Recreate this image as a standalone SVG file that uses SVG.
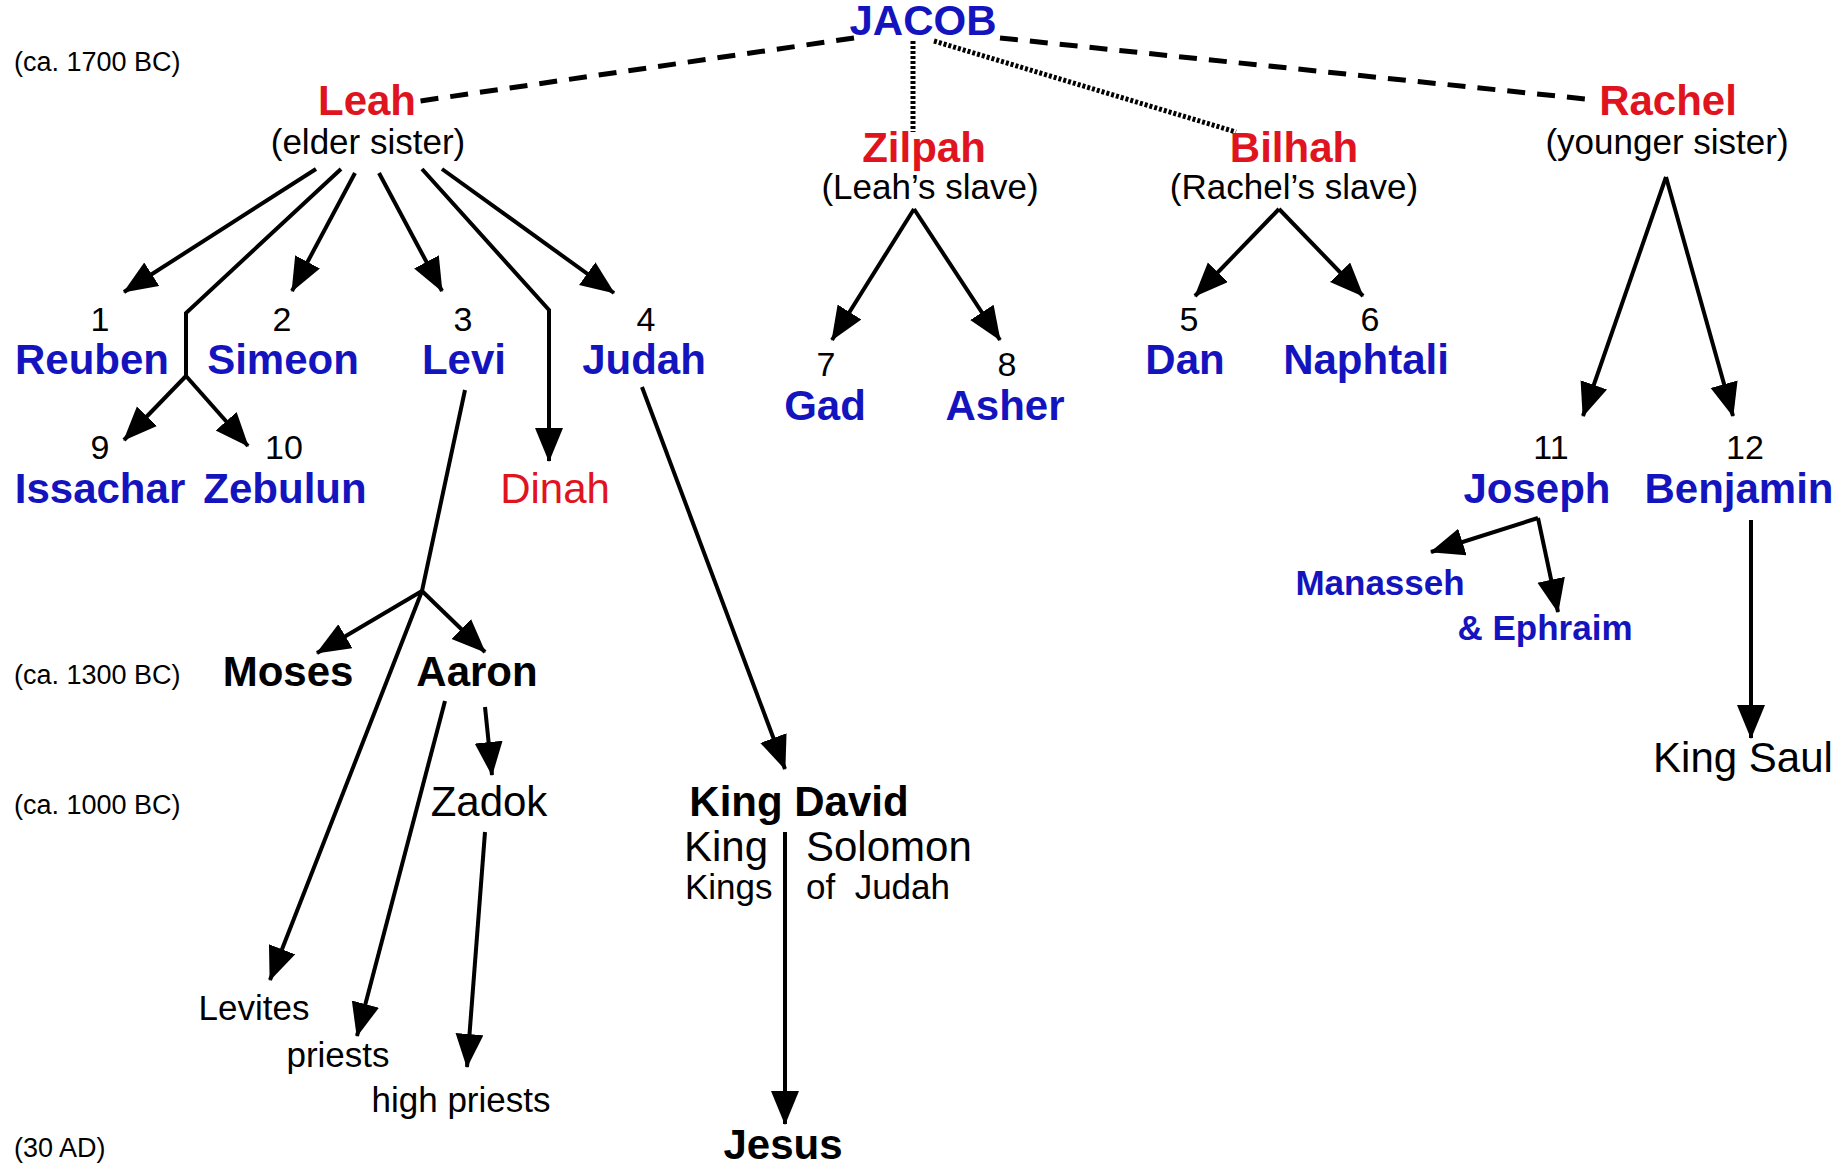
<svg xmlns="http://www.w3.org/2000/svg" width="1845" height="1167" viewBox="0 0 1845 1167">
<style>
text{font-family:"Liberation Sans",Arial,sans-serif;text-anchor:middle}
.bb{font-size:42px;font-weight:bold;fill:#1414BE}
.br{font-size:42px;font-weight:bold;fill:#E0141E}
.rr{font-size:42px;fill:#E0141E}
.bk{font-size:42px;font-weight:bold;fill:#000}
.rk{font-size:42px;fill:#000}
.sub{font-size:35px;fill:#000}
.num{font-size:34px;fill:#000}
.mb{font-size:35px;font-weight:bold;fill:#1414BE}
.date{font-size:27px;fill:#000;text-anchor:start}
.st{text-anchor:start}
.ln{stroke:#000;stroke-width:4;fill:none}
.ar{marker-end:url(#ah)}
.dash{stroke:#000;stroke-width:5;stroke-dasharray:18 12;fill:none}
.dot{stroke:#000;stroke-width:5;stroke-dasharray:3 2;fill:none}
</style>
<defs>
<marker id="ah" markerUnits="userSpaceOnUse" markerWidth="36" markerHeight="30" refX="33" refY="14" orient="auto" viewBox="0 0 36 30">
<path d="M0,0 L34,14 L0,28 Z" fill="#000"/>
</marker>
</defs>
<rect width="1845" height="1167" fill="#fff"/>
<g id="dates">
<text class="date" x="14" y="71">(ca. 1700 BC)</text>
<text class="date" x="14" y="684">(ca. 1300 BC)</text>
<text class="date" x="14" y="814">(ca. 1000 BC)</text>
<text class="date" x="14" y="1157">(30 AD)</text>
</g>
<g id="connectors">
<path class="dash" d="M854,38 L420,101"/>
<path class="dash" d="M1000,38 L1595,100"/>
<path class="dot" d="M913,41 L913,132"/>
<path class="dot" d="M934,41 L1236,132"/>
<path class="ln ar" d="M316,169 L124,292"/>
<path class="ln" d="M341,169 L186,313 L186,376"/>
<path class="ln ar" d="M186,376 L124,440"/>
<path class="ln ar" d="M186,376 L248,446"/>
<path class="ln ar" d="M355,173 L292,291"/>
<path class="ln ar" d="M379,173 L442,291"/>
<path class="ln ar" d="M422,169 L549,310 L549,461"/>
<path class="ln ar" d="M442,169 L614,293"/>
<path class="ln ar" d="M914,209 L832,340"/>
<path class="ln ar" d="M914,209 L1000,340"/>
<path class="ln ar" d="M1279,209 L1195,296"/>
<path class="ln ar" d="M1279,209 L1363,296"/>
<path class="ln ar" d="M1666,177 L1583,416"/>
<path class="ln ar" d="M1666,177 L1733,416"/>
<path class="ln" d="M465,390 L422,591"/>
<path class="ln ar" d="M422,591 L317,653"/>
<path class="ln ar" d="M422,591 L485,652"/>
<path class="ln ar" d="M422,591 L270,980"/>
<path class="ln ar" d="M445,701 L357,1036"/>
<path class="ln ar" d="M485,707 L492,775"/>
<path class="ln ar" d="M485,832 L467,1067"/>
<path class="ln ar" d="M642,387 L785,769"/>
<path class="ln ar" d="M785,832 L785,1124"/>
<path class="ln ar" d="M1538,518 L1431,552"/>
<path class="ln ar" d="M1538,518 L1558,612"/>
<path class="ln ar" d="M1751,520 L1751,738"/>
</g>
<g id="jacob"><text class="bb" x="923" y="35">JACOB</text></g>
<g id="leah"><text class="br" x="367" y="115">Leah</text><text class="sub" x="368" y="154">(elder sister)</text></g>
<g id="zilpah"><text class="br" x="924" y="162">Zilpah</text><text class="sub" x="930" y="199">(Leah’s slave)</text></g>
<g id="bilhah"><text class="br" x="1294" y="162">Bilhah</text><text class="sub" x="1294" y="199">(Rachel’s slave)</text></g>
<g id="rachel"><text class="br" x="1668" y="115">Rachel</text><text class="sub" x="1667" y="154">(younger sister)</text></g>
<g id="reuben"><text class="num" x="100" y="331">1</text><text class="bb" x="92" y="374">Reuben</text></g>
<g id="simeon"><text class="num" x="282" y="331">2</text><text class="bb" x="283" y="374">Simeon</text></g>
<g id="levi"><text class="num" x="463" y="331">3</text><text class="bb" x="464" y="374">Levi</text></g>
<g id="judah"><text class="num" x="646" y="331">4</text><text class="bb" x="644" y="374">Judah</text></g>
<g id="dan"><text class="num" x="1189" y="331">5</text><text class="bb" x="1185" y="374">Dan</text></g>
<g id="naphtali"><text class="num" x="1370" y="331">6</text><text class="bb" x="1366" y="374">Naphtali</text></g>
<g id="gad"><text class="num" x="826" y="376">7</text><text class="bb" x="825" y="420">Gad</text></g>
<g id="asher"><text class="num" x="1007" y="376">8</text><text class="bb" x="1005" y="420">Asher</text></g>
<g id="issachar"><text class="num" x="100" y="459">9</text><text class="bb" x="100" y="503">Issachar</text></g>
<g id="zebulun"><text class="num" x="284" y="459">10</text><text class="bb" x="285" y="503">Zebulun</text></g>
<g id="dinah"><text class="rr" x="555" y="503">Dinah</text></g>
<g id="joseph"><text class="num" x="1551" y="459">11</text><text class="bb" x="1537" y="503">Joseph</text></g>
<g id="benjamin"><text class="num" x="1745" y="459">12</text><text class="bb" x="1739" y="503">Benjamin</text></g>
<g id="manasseh"><text class="mb" x="1380" y="595">Manasseh</text></g>
<g id="ephraim"><text class="mb" x="1545" y="640">&amp; Ephraim</text></g>
<g id="moses"><text class="bk" x="288" y="686">Moses</text></g>
<g id="aaron"><text class="bk" x="477" y="686">Aaron</text></g>
<g id="zadok"><text class="rk" x="489" y="816">Zadok</text></g>
<g id="kingdavid"><text class="bk" x="799" y="816">King David</text>
<text class="rk st" x="684" y="861">King</text><text class="rk st" x="806" y="861">Solomon</text>
<text class="sub st" x="685" y="899">Kings</text><text class="sub st" x="806" y="899" xml:space="preserve">of  Judah</text></g>
<g id="kingsaul"><text class="rk" x="1743" y="772">King Saul</text></g>
<g id="levites"><text class="sub" x="254" y="1020">Levites</text></g>
<g id="priests"><text class="sub" x="338" y="1067">priests</text></g>
<g id="highpriests"><text class="sub" x="461" y="1112">high priests</text></g>
<g id="jesus"><text class="bk" x="783" y="1159">Jesus</text></g>
</svg>
